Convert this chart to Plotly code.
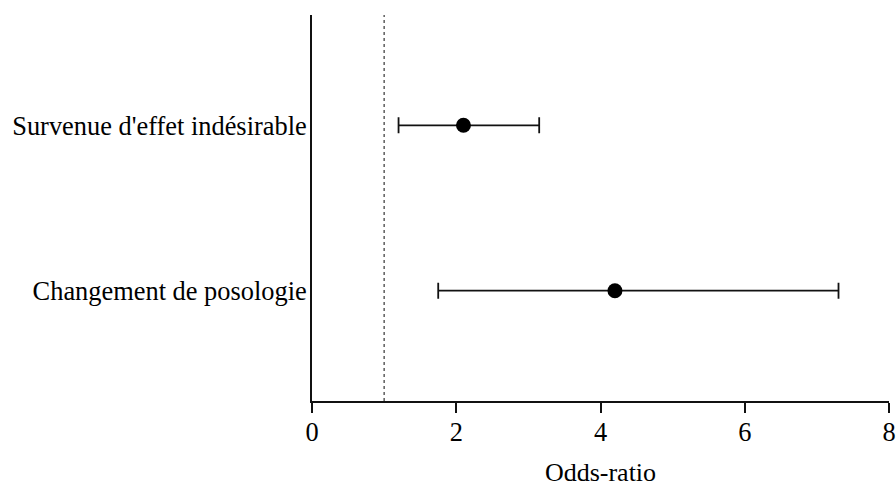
import plotly.graph_objects as go

categories = ["Changement de posologie", "Survenue d'effet indésirable"]
odds_ratio = [4.2, 2.1]
ci_low = [1.75, 1.2]
ci_high = [7.3, 3.15]
x_ticks = [0, 2, 4, 6, 8]
ref_line = 1

err_plus = [h - o for h, o in zip(ci_high, odds_ratio)]
err_minus = [o - l for o, l in zip(odds_ratio, ci_low)]

FONT = "'Liberation Serif', 'Times New Roman', Times, 'DejaVu Serif', serif"

fig = go.Figure()
fig.add_trace(go.Scatter(
    x=odds_ratio, y=categories, mode="markers",
    marker=dict(size=15, color="black"),
    error_x=dict(type="data", symmetric=False, array=err_plus, arrayminus=err_minus,
                 color="#111", thickness=1.8, width=8),
    showlegend=False,
))
fig.add_shape(type="line", xref="x", yref="paper", x0=ref_line, x1=ref_line, y0=0, y1=1,
              line=dict(color="#333", width=1.2, dash="dot"))

fig.update_layout(
    width=896, height=487,
    margin=dict(l=312, r=7, t=15, b=86),
    paper_bgcolor="white", plot_bgcolor="white",
    font=dict(family=FONT, size=26.4, color="black"),
    xaxis=dict(range=[0, 8], tickvals=x_ticks, showgrid=False, zeroline=False,
               showline=True, linecolor="#111", linewidth=2, automargin=False,
               ticks="outside", ticklen=10, tickwidth=2, tickcolor="#111",
               ticklabelstandoff=-4,
               title=dict(text="Odds-ratio", standoff=24, font=dict(size=26))),
    yaxis=dict(type="category", categoryorder="array", categoryarray=categories,
               range=[-2/3, 5/3], showgrid=False, zeroline=False, automargin=False,
               showline=True, linecolor="#111", linewidth=2, ticks="",
               ticklabelstandoff=-2),
)
fig.write_html("out.html")
